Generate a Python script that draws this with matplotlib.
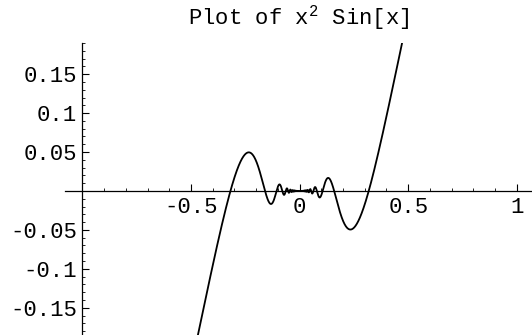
import numpy as np
import matplotlib
matplotlib.use("Agg")
import matplotlib.pyplot as plt
from matplotlib.ticker import MultipleLocator

plt.rcParams['font.family'] = ['Liberation Mono', 'DejaVu Sans']
plt.rcParams['mathtext.fontset'] = 'custom'
plt.rcParams['mathtext.rm'] = 'Liberation Mono'
plt.rcParams['mathtext.it'] = 'Liberation Mono'

title = r"Plot of x$^{2}$ Sin[x]"
x_range = (-1.0, 1.0)
n_samples = 4001
x_ticks = [-0.5, 0, 0.5, 1]
x_tick_labels = ["-0.5", "0", "0.5", "1"]
y_ticks = [-0.15, -0.1, -0.05, 0.05, 0.1, 0.15]
y_tick_labels = ["-0.15", "-0.1", "-0.05", "0.05", "0.1", "0.15"]


def f(x):
    # x^2 sin(1/x), with the removable point at 0 filled in
    out = np.zeros_like(x)
    nz = x != 0
    out[nz] = x[nz] ** 2 * np.sin(1.0 / x[nz])
    return out


x = np.linspace(x_range[0], x_range[1], n_samples)
y = f(x)

fig = plt.figure(figsize=(5.32, 3.35), dpi=100)
ax = fig.add_axes([65 / 532, 0.0, 467 / 532, 292 / 335])
ax.plot(x, y, color='black', lw=1.3)

ax.set_xlim(-1.08, 1.07)
ax.set_ylim(-0.185, 0.19)

ax.spines['top'].set_visible(False)
ax.spines['right'].set_visible(False)
ax.spines['left'].set_position(('data', -1))
ax.spines['bottom'].set_position(('data', 0))
for s in ('left', 'bottom'):
    ax.spines[s].set_linewidth(0.9)

ax.set_xticks(x_ticks)
ax.set_xticklabels(x_tick_labels)
ax.set_yticks(y_ticks)
ax.set_yticklabels(y_tick_labels)
ax.xaxis.set_minor_locator(MultipleLocator(0.1))
ax.yaxis.set_minor_locator(MultipleLocator(0.01))
ax.tick_params(which='major', direction='in', length=5, width=0.8,
               labelsize=16, pad=4)
ax.tick_params(which='minor', direction='in', length=2.5, width=0.6)

fig.text(299 / 532, 1 - 18 / 335, title, ha='center', va='center', fontsize=16)

fig.savefig("out.png", dpi=100)
